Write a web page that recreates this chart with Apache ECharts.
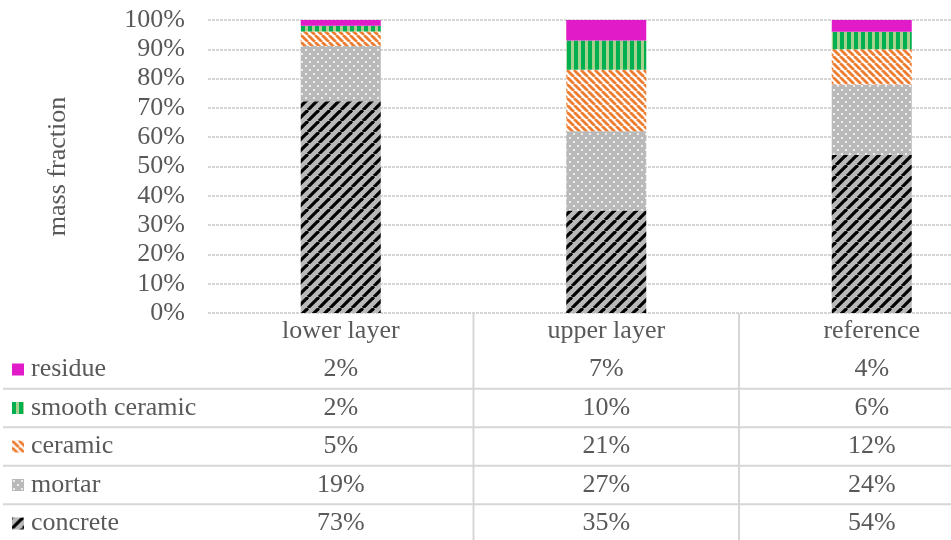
<!DOCTYPE html>
<html>
<head>
<meta charset="utf-8">
<script src="https://cdn.jsdelivr.net/npm/echarts@6/dist/echarts.min.js"></script>
<style>
  html, body { margin: 0; padding: 0; background: #ffffff; overflow: hidden; }
  /* the plot area continues past the right edge of the window */
  #chart { width: 1005px; height: 540px; }
</style>
</head>
<body>
<div id="chart"></div>
<script>
// Mass fractions (%) per sample
const categories = ['lower layer', 'upper layer', 'reference'];
const concrete = [73, 35, 54];
const mortar = [19, 27, 24];
const ceramic = [5, 21, 12];
const smoothCeramic = [2, 10, 6];
const residue = [2, 7, 4];

const FONT = "'Liberation Serif', 'Times New Roman', serif";
const TEXT = '#595959';
const ROW = 38.5;

// Repeating canvas fills for the hatched segments
function tile(w, h, draw) {
  const c = document.createElement('canvas');
  c.width = w; c.height = h;
  draw(c.getContext('2d'), w, h);
  return { image: c, repeat: 'repeat' };
}
const concreteFill = tile(11, 11, (g, w, h) => {
  g.fillStyle = '#b9b9b9'; g.fillRect(0, 0, w, h);
  g.strokeStyle = '#000000'; g.lineWidth = 3.2;
  for (let k = -1; k <= 1; k++) {
    g.beginPath(); g.moveTo(k * w, h); g.lineTo(k * w + w, 0); g.stroke();
  }
});
const mortarFill = tile(8, 8, (g, w, h) => {
  g.fillStyle = '#b9b9b9'; g.fillRect(0, 0, w, h);
  g.fillStyle = '#ededed';
  g.fillRect(1, 1, 2, 2);
  g.fillRect(5, 5, 2, 2);
});
const ceramicFill = tile(7, 7, (g, w, h) => {
  g.fillStyle = '#ffffff'; g.fillRect(0, 0, w, h);
  g.strokeStyle = '#ed7d31'; g.lineWidth = 2.8;
  for (let k = -1; k <= 1; k++) {
    g.beginPath(); g.moveTo(k * w, 0); g.lineTo(k * w + w, h); g.stroke();
  }
});
const smoothFill = tile(7, 4, (g, w, h) => {
  g.fillStyle = '#a9d18e'; g.fillRect(0, 0, w, h);
  g.fillStyle = '#00b050'; g.fillRect(0, 0, 4, h);
});
const residueFill = '#e11bc8';

// 100% stacked: each column scaled by its own total
const totals = categories.map((_, i) =>
  concrete[i] + mortar[i] + ceramic[i] + smoothCeramic[i] + residue[i]);
const share = arr => arr.map((v, i) => v / totals[i] * 100);

const layers = [
  { name: 'concrete', values: concrete, fill: concreteFill },
  { name: 'mortar', values: mortar, fill: mortarFill },
  { name: 'ceramic', values: ceramic, fill: ceramicFill },
  { name: 'smooth ceramic', values: smoothCeramic, fill: smoothFill },
  { name: 'residue', values: residue, fill: residueFill }
];
// table rows, top to bottom
const tableRows = [residue, smoothCeramic, ceramic, mortar, concrete];

const labelStyle = { fontFamily: FONT, fontSize: 26, color: TEXT };

const xAxes = [{
  type: 'category', data: categories, gridIndex: 0, position: 'bottom',
  axisLine: { show: false }, axisTick: { show: false },
  axisLabel: Object.assign({ margin: 18, verticalAlign: 'middle', interval: 0 }, labelStyle)
}];
tableRows.forEach((row, r) => {
  xAxes.push({
    type: 'category', data: categories, gridIndex: 0, position: 'bottom',
    offset: ROW * (r + 1),
    axisLine: { show: false }, axisTick: { show: false }, splitLine: { show: false },
    axisLabel: Object.assign({
      margin: 18, verticalAlign: 'middle', interval: 0,
      formatter: (v, i) => row[i] + '%'
    }, labelStyle)
  });
});

const chart = echarts.init(document.getElementById('chart'), null, { renderer: 'canvas' });
chart.setOption({
  animation: false,
  backgroundColor: '#ffffff',
  grid: { left: 208, top: 20, right: 0.5, height: 293 },
  legend: {
    orient: 'vertical', left: 12, top: 356.5, height: 230, padding: 0,
    data: ['residue', 'smooth ceramic', 'ceramic', 'mortar', 'concrete'],
    itemWidth: 12, itemHeight: 12, itemGap: ROW - 26,
    icon: 'rect', selectedMode: false,
    textStyle: { fontFamily: FONT, fontSize: 26, color: TEXT, lineHeight: 26, padding: [0, 0, 0, 2] }
  },
  xAxis: xAxes,
  yAxis: {
    type: 'value', min: 0, max: 100, interval: 10,
    name: 'mass fraction', nameLocation: 'middle', nameRotate: 90, nameGap: 137,
    nameTextStyle: labelStyle,
    axisLine: { show: false }, axisTick: { show: false },
    axisLabel: Object.assign({ margin: 23, formatter: '{value}%' }, labelStyle),
    splitLine: { lineStyle: { color: '#c9c9c9', width: 1.5, type: [3, 1] } }
  },
  series: layers.map(l => ({
    name: l.name, type: 'bar', stack: 'mass', barWidth: 80,
    data: share(l.values),
    itemStyle: { color: l.fill }
  }))
});

// Data-table rules: row separators and column separators between categories
const c0 = chart.convertToPixel({ xAxisIndex: 0 }, categories[0]);
const c1 = chart.convertToPixel({ xAxisIndex: 0 }, categories[1]);
const band = c1 - c0;
const baseY = chart.convertToPixel({ yAxisIndex: 0 }, 0);
const rule = { stroke: '#d6d6d6', lineWidth: 2 };
const graphics = [];
for (let r = 1; r < tableRows.length; r++) {
  const y = baseY + 18 + ROW * r + ROW / 2;
  graphics.push({ type: 'line', shape: { x1: 3, y1: y, x2: 1005, y2: y }, style: rule, silent: true });
}
for (let i = 0; i < categories.length - 1; i++) {
  const x = c0 + band * (i + 0.5);
  graphics.push({ type: 'line', shape: { x1: x, y1: baseY, x2: x, y2: 540 }, style: rule, silent: true });
}
chart.setOption({ graphic: graphics });
</script>
</body>
</html>
